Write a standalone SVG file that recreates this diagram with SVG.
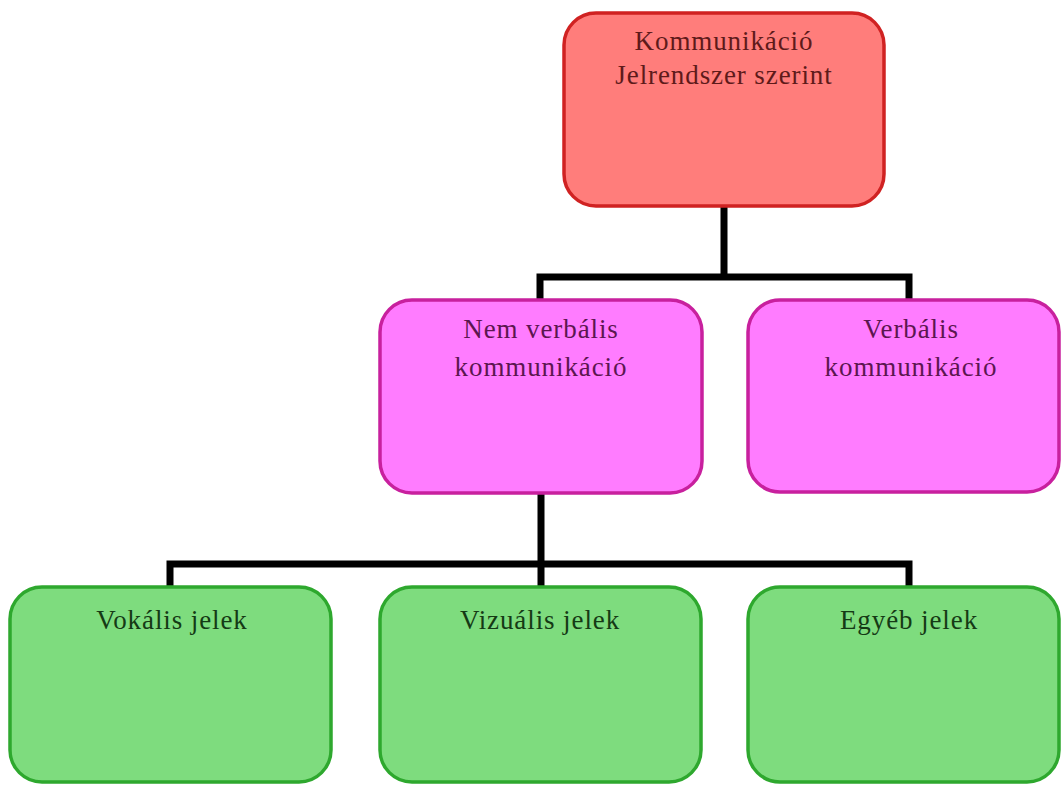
<svg xmlns="http://www.w3.org/2000/svg" width="1062" height="787" viewBox="0 0 1062 787">
<style>
text{font-family:"Liberation Serif","Times New Roman",serif;font-size:27px;letter-spacing:0.9px;text-anchor:middle}
.red rect{fill:#FF7D7B;stroke:#D02222;stroke-width:3.5}
.red text{fill:#5E1A1A}
.pink rect{fill:#FF7CFF;stroke:#C8209E;stroke-width:3.5}
.pink text{fill:#5C1650}
.green rect{fill:#7EDC7E;stroke:#2EA82E;stroke-width:3.5}
.green text{fill:#153A15}
.conn{fill:none;stroke:#000;stroke-width:7;stroke-linejoin:miter;stroke-linecap:butt}
</style>
<rect width="1062" height="787" fill="#fff"/>
<g id="connectors">
<path class="conn" d="M724 206 V277 M540 300 V277 H909 V300"/>
<path class="conn" d="M541 493 V564 M170 587 V564 H909 V587 M541 564 V587"/>
</g>
<g id="n-root" class="red">
<rect x="564" y="13" width="320" height="193" rx="32"/>
<text x="724" y="50">Kommunikáció</text>
<text x="724" y="84">Jelrendszer szerint</text>
</g>
<g id="n-nonverbal" class="pink">
<rect x="380" y="300" width="322" height="193" rx="32"/>
<text x="541" y="338">Nem verbális</text>
<text x="541" y="376">kommunikáció</text>
</g>
<g id="n-verbal" class="pink">
<rect x="748" y="300" width="311" height="192" rx="32"/>
<text x="911" y="338">Verbális</text>
<text x="911" y="376">kommunikáció</text>
</g>
<g id="n-vokalis" class="green">
<rect x="10" y="587" width="321" height="195" rx="32"/>
<text x="172" y="629">Vokális jelek</text>
</g>
<g id="n-vizualis" class="green">
<rect x="380" y="587" width="321" height="195" rx="32"/>
<text x="540" y="629">Vizuális jelek</text>
</g>
<g id="n-egyeb" class="green">
<rect x="748" y="587" width="311" height="195" rx="32"/>
<text x="909" y="629">Egyéb jelek</text>
</g>
</svg>
